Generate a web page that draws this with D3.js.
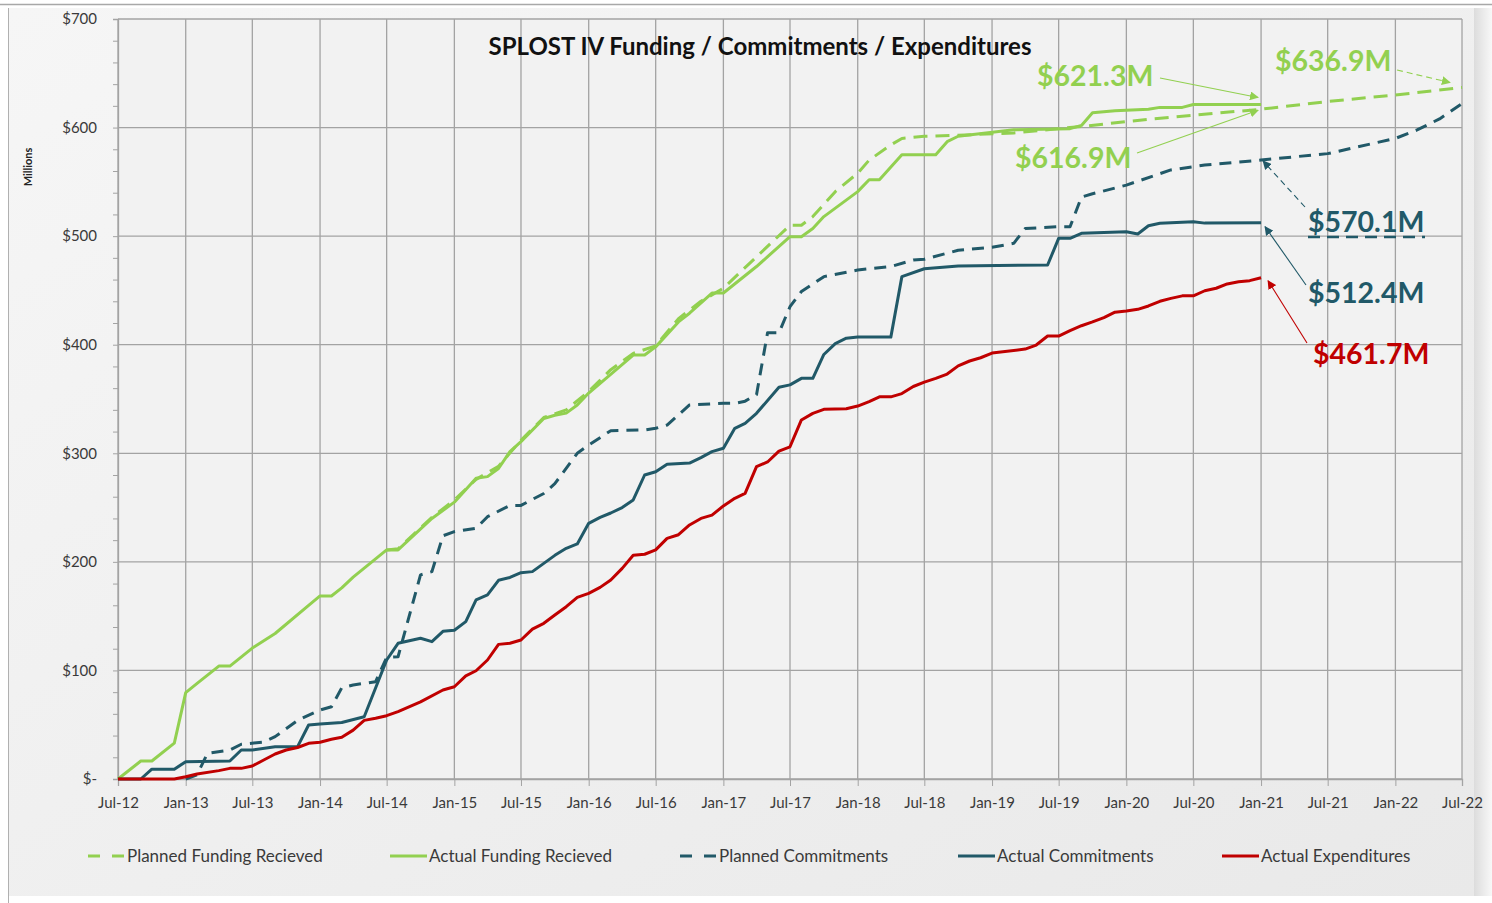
<!DOCTYPE html>
<html lang="en">
<head>
<meta charset="utf-8">
<script src="https://d3js.org/d3.v7.min.js"></script>
<style>
  body { margin: 0; background: #ffffff; }
  svg { display: block; font-family: Lato, "Open Sans", sans-serif; }
</style>
</head>
<body>
<div id="chart"></div>
<script>
// ---- data ($ millions) ----
var fundingPlannedDates = ["2014-07","2014-08","2014-11","2015-01","2015-03","2015-05","2015-07","2015-09","2015-11","2016-01","2016-03","2016-05","2016-07","2016-09","2016-11","2017-01","2017-04","2017-07","2017-08","2017-09","2017-11","2018-01","2018-02","2018-04","2018-05","2018-07","2018-10","2019-03","2019-09","2020-03","2021-01","2021-07","2022-01","2022-07"];
var fundingPlannedValues = [211,212,241,257,276,288,312,333,340,357,377,392,399,424,440,452,481,510,510,518,541,558,570,584,590,592,593,595,601,607.6,616.9,624,630,636.9];

var fundingActualDates = ["2012-07","2012-09","2012-10","2012-12","2013-01","2013-02","2013-04","2013-05","2013-07","2013-09","2013-12","2014-01","2014-02","2014-03","2014-04","2014-07","2014-08","2014-11","2015-01","2015-03","2015-04","2015-05","2015-06","2015-07","2015-09","2015-10","2015-11","2015-12","2016-01","2016-05","2016-06","2016-07","2016-09","2016-10","2016-12","2017-01","2017-04","2017-07","2017-08","2017-09","2017-10","2018-01","2018-02","2018-03","2018-05","2018-08","2018-09","2018-10","2019-03","2019-08","2019-09","2019-10","2019-12","2020-03","2020-04","2020-06","2020-07","2021-01"];
var fundingActualValues = [0,16.6,16.6,33,79.5,88,104,104,120.6,134,160,168.6,168.6,176,186,211,211,240,255,277,278.5,286,301.5,310.7,332,335,337,344.5,355.5,390.5,390.5,398,421,429,447.6,447.6,472,499.5,499.5,507,518,541,552,552,575,575,587,592,598,599,602,613.6,615.5,616.8,618.6,618.6,621.3,621.3];

var commitPlannedDates = ["2013-01","2013-02","2013-03","2013-05","2013-06","2013-08","2013-09","2013-11","2014-01","2014-02","2014-03","2014-04","2014-06","2014-07","2014-08","2014-10","2014-11","2014-12","2015-01","2015-03","2015-04","2015-06","2015-07","2015-09","2015-10","2015-12","2016-01","2016-03","2016-06","2016-07","2016-08","2016-10","2017-01","2017-02","2017-03","2017-04","2017-05","2017-06","2017-07","2017-08","2017-10","2018-01","2018-04","2018-06","2018-07","2018-10","2019-01","2019-03","2019-04","2019-07","2019-08","2019-09","2019-10","2020-01","2020-05","2020-08","2021-01","2021-07","2022-01","2022-03","2022-05","2022-07"];
var commitPlannedValues = [0,4,23.6,26.7,32,34,39,54,63.5,66.6,84,86.6,89.6,112,112.6,188,191,224,227.8,231,241.6,252,252,263,272,300,307.6,320.8,321.5,323,326,344.5,346,346,348,354,411,411,435,449,462.7,468.8,472,478,478.7,487,489.7,493.4,507,508.7,508.7,536,539,547,561,565.5,570.1,576,590,597.8,608,622];

var commitActualDates = ["2012-07","2012-09","2012-10","2012-12","2013-01","2013-05","2013-06","2013-07","2013-09","2013-11","2013-12","2014-01","2014-03","2014-05","2014-07","2014-08","2014-10","2014-11","2014-12","2015-01","2015-02","2015-03","2015-04","2015-05","2015-06","2015-07","2015-08","2015-09","2015-10","2015-11","2015-12","2016-01","2016-02","2016-03","2016-04","2016-05","2016-06","2016-07","2016-08","2016-10","2016-11","2016-12","2017-01","2017-02","2017-03","2017-04","2017-06","2017-07","2017-08","2017-09","2017-10","2017-11","2017-12","2018-01","2018-04","2018-05","2018-07","2018-10","2019-06","2019-07","2019-08","2019-09","2020-01","2020-02","2020-03","2020-04","2020-07","2020-08","2021-01"];
var commitActualValues = [0,0,9,9,16,16.6,26.7,26.7,29.8,29.8,49.7,50.7,52,57.4,109.6,125,129.6,126.5,136,137,145,165,169.5,183,185.6,190,191,198.6,206,212.5,216.5,235.5,241,245,250,257,280,283,290,291,296,301.5,304.6,323,327.6,336.8,360.8,363,369,369,391,401,406,407,407,462.7,470,472.5,473.4,498,498,502.6,504,502,509.6,511.8,513.3,512,512.4];

var expendDates = ["2012-07","2012-12","2013-01","2013-02","2013-04","2013-05","2013-06","2013-07","2013-08","2013-09","2013-10","2013-11","2013-12","2014-01","2014-02","2014-03","2014-04","2014-05","2014-06","2014-07","2014-08","2014-10","2014-12","2015-01","2015-02","2015-03","2015-04","2015-05","2015-06","2015-07","2015-08","2015-09","2015-10","2015-11","2015-12","2016-01","2016-02","2016-03","2016-04","2016-05","2016-06","2016-07","2016-08","2016-09","2016-10","2016-11","2016-12","2017-01","2017-02","2017-03","2017-04","2017-05","2017-06","2017-07","2017-08","2017-09","2017-10","2017-12","2018-01","2018-02","2018-03","2018-04","2018-05","2018-06","2018-07","2018-08","2018-09","2018-10","2018-11","2018-12","2019-01","2019-04","2019-05","2019-06","2019-07","2019-08","2019-09","2019-10","2019-11","2019-12","2020-01","2020-02","2020-03","2020-04","2020-05","2020-06","2020-07","2020-08","2020-09","2020-10","2020-11","2020-12","2021-01"];
var expendValues = [0,0,2,4.6,7.7,9.8,9.8,12,17.5,23,26.7,29,32.9,33.8,36.6,38.4,45,54,56,58.3,62,71,82,85,95,99.7,109.6,124,125,128,138,143.4,151,158.7,167.3,171,176.5,183.3,194,206,207,211,221.6,225,234,240,243,251.5,258.5,263,287.7,292,302,306,330.7,336.8,340.5,341,343.5,347.5,352,352,355,361.5,365.5,369,373,380.5,385,388,392.3,396,399.7,408,408,413,417.5,421,425,430,431,432.6,435.7,440,442.7,445,445,449.7,452,456,458,459,461.7];

var yTicks = [0,100,200,300,400,500,600,700];
var seriesNames = ["Planned Funding Recieved","Actual Funding Recieved","Planned Commitments","Actual Commitments","Actual Expenditures"];
var seriesColors = ["#92d050","#92d050","#215968","#215968","#c00000"];
var seriesDashed = [true,false,true,false,false];

// ---- setup ----
var W = 1492, H = 903;
var plotL = 118, plotR = 1462, plotT = 19, plotB = 779;
var parse = d3.timeParse("%Y-%m");

var svg = d3.select("#chart").append("svg")
  .attr("width", W).attr("height", H);

var defs = svg.append("defs");
var bg = defs.append("linearGradient").attr("id", "bgGrad")
  .attr("x1", 0).attr("y1", 0).attr("x2", 1).attr("y2", 1);
bg.append("stop").attr("offset", "0%").attr("stop-color", "#f6f6f6");
bg.append("stop").attr("offset", "100%").attr("stop-color", "#e9e9e9");
var sh = defs.append("linearGradient").attr("id", "shGrad")
  .attr("x1", 0).attr("y1", 0).attr("x2", 1).attr("y2", 0);
sh.append("stop").attr("offset", "0%").attr("stop-color", "#dcdcdc");
sh.append("stop").attr("offset", "100%").attr("stop-color", "#f8f8f8");

// arrow heads
[["green","#92d050"],["teal","#215968"],["red","#c00000"]].forEach(function(c){
  defs.append("marker").attr("id", "arr-" + c[0])
    .attr("viewBox", "0 0 10 10").attr("refX", 9).attr("refY", 5)
    .attr("markerWidth", 9).attr("markerHeight", 9)
    .attr("markerUnits", "userSpaceOnUse")
    .attr("orient", "auto")
    .append("path").attr("d", "M0,0 L10,5 L0,10 z").attr("fill", c[1]);
});

// outer frame
svg.append("line").attr("x1", 0).attr("x2", W).attr("y1", 4.5).attr("y2", 4.5)
  .attr("stroke", "#a8a8a8").attr("stroke-width", 1.5);
svg.append("rect").attr("x", 8).attr("y", 8).attr("width", 1472).attr("height", 888)
  .attr("fill", "url(#bgGrad)");
svg.append("rect").attr("x", 1474).attr("y", 8).attr("width", 18).attr("height", 888)
  .attr("fill", "url(#shGrad)");
svg.append("line").attr("x1", 8.5).attr("x2", 8.5).attr("y1", 8).attr("y2", 903)
  .attr("stroke", "#b0b0b0").attr("stroke-width", 1);

// scales
var x = d3.scaleTime()
  .domain([parse("2012-07"), parse("2022-07")])
  .range([plotL, plotR]);
var y = d3.scaleLinear().domain([0, 700]).range([plotB, plotT]);

// plot background
svg.append("rect").attr("x", plotL).attr("y", plotT)
  .attr("width", plotR - plotL).attr("height", plotB - plotT)
  .attr("fill", "#f2f2f2");

// grid
var xTickDates = x.ticks(d3.timeMonth.every(6));
svg.append("g").selectAll("line").data(xTickDates).enter().append("line")
  .attr("x1", function(d){ return x(d); }).attr("x2", function(d){ return x(d); })
  .attr("y1", plotT).attr("y2", plotB)
  .attr("stroke", "#a3a3a3").attr("stroke-width", 1.3);
svg.append("g").selectAll("line").data(yTicks).enter().append("line")
  .attr("x1", plotL).attr("x2", plotR)
  .attr("y1", function(d){ return y(d); }).attr("y2", function(d){ return y(d); })
  .attr("stroke", "#a3a3a3").attr("stroke-width", 1.3);

// axes
var yAxisMinor = svg.append("g").attr("transform", "translate(" + plotL + ",0)")
  .call(d3.axisLeft(y).tickValues(d3.range(0, 701, 20)).tickSize(5).tickFormat(""));
yAxisMinor.select(".domain").attr("stroke", "#a3a3a3").attr("stroke-width", 1.3);
yAxisMinor.selectAll(".tick line").attr("stroke", "#a3a3a3");

var yAxis = svg.append("g").attr("transform", "translate(" + (plotL - 21) + ",0)")
  .call(d3.axisLeft(y).tickValues(yTicks).tickSize(0)
    .tickFormat(function(d){ return d === 0 ? "$-" : "$" + d; }));
yAxis.select(".domain").remove();
yAxis.selectAll("text").attr("x", 0).attr("font-size", 15)
  .attr("font-family", "Lato, sans-serif").attr("fill", "#3a3a3a");

var xAxis = svg.append("g").attr("transform", "translate(0," + plotB + ")")
  .call(d3.axisBottom(x).tickValues(xTickDates).tickSize(7)
    .tickFormat(d3.timeFormat("%b-%y")));
xAxis.select(".domain").attr("stroke", "#a3a3a3").attr("stroke-width", 1.3);
xAxis.selectAll(".tick line").attr("stroke", "#a3a3a3");
xAxis.selectAll("text").attr("y", 18).attr("font-size", 15)
  .attr("font-family", "Lato, sans-serif").attr("fill", "#3a3a3a");

svg.append("text").attr("transform", "translate(32,167) rotate(-90)")
  .attr("text-anchor", "middle").attr("font-size", 11).attr("font-weight", "bold")
  .attr("fill", "#222").text("Millions");

// title
svg.append("text").attr("x", 760).attr("y", 55).attr("text-anchor", "middle")
  .attr("font-size", 24).attr("font-weight", "bold").attr("fill", "#111")
  .text("SPLOST IV Funding / Commitments / Expenditures");

// lines
function toPts(dates, vals) {
  return dates.map(function(d, i){ return [parse(d), vals[i]]; });
}
var series = [
  toPts(fundingPlannedDates, fundingPlannedValues),
  toPts(fundingActualDates, fundingActualValues),
  toPts(commitPlannedDates, commitPlannedValues),
  toPts(commitActualDates, commitActualValues),
  toPts(expendDates, expendValues)
];
var line = d3.line().x(function(d){ return x(d[0]); }).y(function(d){ return y(d[1]); });

svg.append("g").selectAll("path").data(series).enter().append("path")
  .attr("d", line)
  .attr("fill", "none")
  .attr("stroke", function(d, i){ return seriesColors[i]; })
  .attr("stroke-width", 3)
  .attr("stroke-linejoin", "round")
  .attr("stroke-dasharray", function(d, i){ return seriesDashed[i] ? (i === 0 ? "14,8" : "12,8") : null; });

// annotations
var endDate = parse("2021-01");
var annots = [
  { text: "$621.3M", color: "#92d050", m: "green", tx: 1037, ty: 86, ax: 1160, ay: 78, px: x(endDate) - 3, py: y(621.3) - 7, dash: false },
  { text: "$616.9M", color: "#92d050", m: "green", tx: 1015, ty: 168, ax: 1137, ay: 153, px: x(endDate) - 3, py: y(616.9) + 1, dash: false },
  { text: "$636.9M", color: "#92d050", m: "green", tx: 1275, ty: 71, ax: 1397, ay: 70, px: x(parse("2022-07")) - 12, py: y(636.9) - 5, dash: true },
  { text: "$570.1M", color: "#215968", m: "teal", tx: 1308, ty: 232, ax: 1305, ay: 207, px: x(endDate) + 2, py: y(570.1) + 1, dash: true },
  { text: "$512.4M", color: "#215968", m: "teal", tx: 1308, ty: 303, ax: 1306, ay: 285, px: x(endDate) + 4, py: y(512.4) + 4, dash: false },
  { text: "$461.7M", color: "#c00000", m: "red", tx: 1313, ty: 364, ax: 1307, ay: 343, px: x(endDate) + 7, py: y(461.7) + 3, dash: false }
];
var ag = svg.append("g");
annots.forEach(function(a){
  ag.append("line").attr("x1", a.ax).attr("y1", a.ay).attr("x2", a.px).attr("y2", a.py)
    .attr("stroke", a.color).attr("stroke-width", 1.1)
    .attr("stroke-dasharray", a.dash ? "6,4" : null)
    .attr("marker-end", "url(#arr-" + a.m + ")");
  ag.append("text").attr("x", a.tx).attr("y", a.ty)
    .attr("font-size", 28.5).attr("font-weight", "bold").attr("fill", a.color)
    .text(a.text);
});
// dashed underline under $570.1M
ag.append("line").attr("x1", 1308).attr("x2", 1425).attr("y1", 237).attr("y2", 237)
  .attr("stroke", "#215968").attr("stroke-width", 2.5).attr("stroke-dasharray", "12,7");

// legend
var legendX = [88, 390, 680, 958, 1222];
var lg = svg.append("g");
seriesNames.forEach(function(name, i){
  lg.append("line").attr("x1", legendX[i]).attr("x2", legendX[i] + 37)
    .attr("y1", 856).attr("y2", 856)
    .attr("stroke", seriesColors[i]).attr("stroke-width", 3)
    .attr("stroke-dasharray", seriesDashed[i] ? "12,12" : null);
  lg.append("text").attr("x", legendX[i] + 39).attr("y", 862)
    .attr("font-size", 17).attr("fill", "#3a3a3a").text(name);
});
</script>
</body>
</html>
